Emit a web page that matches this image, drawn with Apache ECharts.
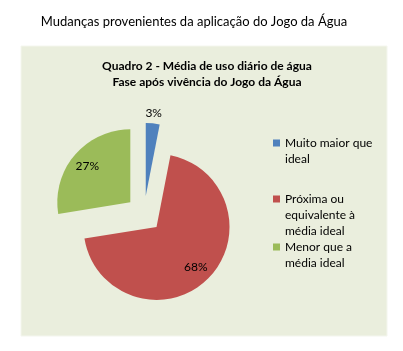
<!DOCTYPE html>
<html>
<head>
<meta charset="utf-8">
<script src="https://cdn.jsdelivr.net/npm/echarts@6/dist/echarts.min.js"></script>
<style>html,body{margin:0;padding:0;background:#fff}#c{width:403px;height:351px}</style>
</head>
<body>
<div id="c"></div>
<script>
var pageTitle = 'Mudanças provenientes da aplicação do Jogo da Água';
var chartTitle = 'Quadro 2 - Média de uso diário de água\nFase após vivência do Jogo da Água';
var categories = ['Muito maior que ideal', 'Próxima ou equivalente à média ideal', 'Menor que a média ideal'];
var legendLabels = ['Muito maior que\nideal', 'Próxima ou\nequivalente à\nmédia ideal', 'Menor que a\nmédia ideal'];
var values = [3, 68, 27];
var colors = ['#4F81BD', '#C0504D', '#9BBB59'];

var FONT = 'Lato';
var chart = echarts.init(document.getElementById('c'), null, {renderer: 'canvas'});

var mainData = categories.map(function (n, i) {
  return {name: n, value: values[i], selected: true, itemStyle: {color: colors[i]}};
});
var labelData = categories.map(function (n, i) {
  return {
    name: n, value: values[i], selected: true,
    label: {position: i === 0 ? 'outside' : 'inside'}
  };
});

// icon aligned with first text line: pad text block on top with empty lines
function alignFirst(s) {
  var n = s.split('\n').length;
  return new Array(n).join('\n') + s;
}

var legendTops = [119, 159, 223];
var legends = categories.map(function (n, i) {
  return {
    data: [n], orient: 'vertical', left: 273, top: legendTops[i], padding: 0,
    itemWidth: 7, itemHeight: 7, icon: 'rect', selectedMode: false,
    formatter: function () { return alignFirst(legendLabels[i]); },
    textStyle: {fontFamily: FONT, fontSize: 12, lineHeight: 16, color: '#000'}
  };
});

chart.setOption({
  animation: false,
  graphic: [{type: 'rect', shape: {x: 21, y: 46, width: 366, height: 290}, style: {fill: '#EAEEDD', stroke: '#f4f6ee', lineWidth: 1}, z: -10, silent: true}],
  title: [
    {text: pageTitle, left: 194, textAlign: 'center', top: 14, padding: 0,
     textStyle: {fontFamily: FONT, fontSize: 13, fontWeight: 'normal', color: '#000', lineHeight: 16}},
    {text: chartTitle, left: 207, textAlign: 'center', top: 58, padding: 0,
     textStyle: {fontFamily: FONT, fontSize: 12, fontWeight: 'bold', color: '#000', lineHeight: 16}}
  ],
  legend: legends,
  series: [
    {
      type: 'pie', center: [144, 214], radius: 73, startAngle: 90, clockwise: true,
      selectedMode: 'multiple', selectedOffset: 18, avoidLabelOverlap: false,
      emphasis: {disabled: true}, select: {itemStyle: {borderWidth: 0}},
      label: {show: false}, labelLine: {show: false},
      data: mainData
    },
    {
      type: 'pie', center: [144, 214], radius: [40, 67], startAngle: 90, clockwise: true,
      selectedMode: 'multiple', selectedOffset: 18, avoidLabelOverlap: false, silent: true,
      emphasis: {disabled: true},
      itemStyle: {color: 'rgba(0,0,0,0)'},
      select: {itemStyle: {color: 'rgba(0,0,0,0)', borderWidth: 0}},
      label: {show: true, formatter: '{c}%', fontFamily: FONT, fontSize: 12, color: '#000', distanceToLabelLine: 0},
      labelLine: {show: false, length: 16, length2: 0},
      labelLayout: {align: 'center'},
      data: labelData
    }
  ]
});
</script>
</body>
</html>
